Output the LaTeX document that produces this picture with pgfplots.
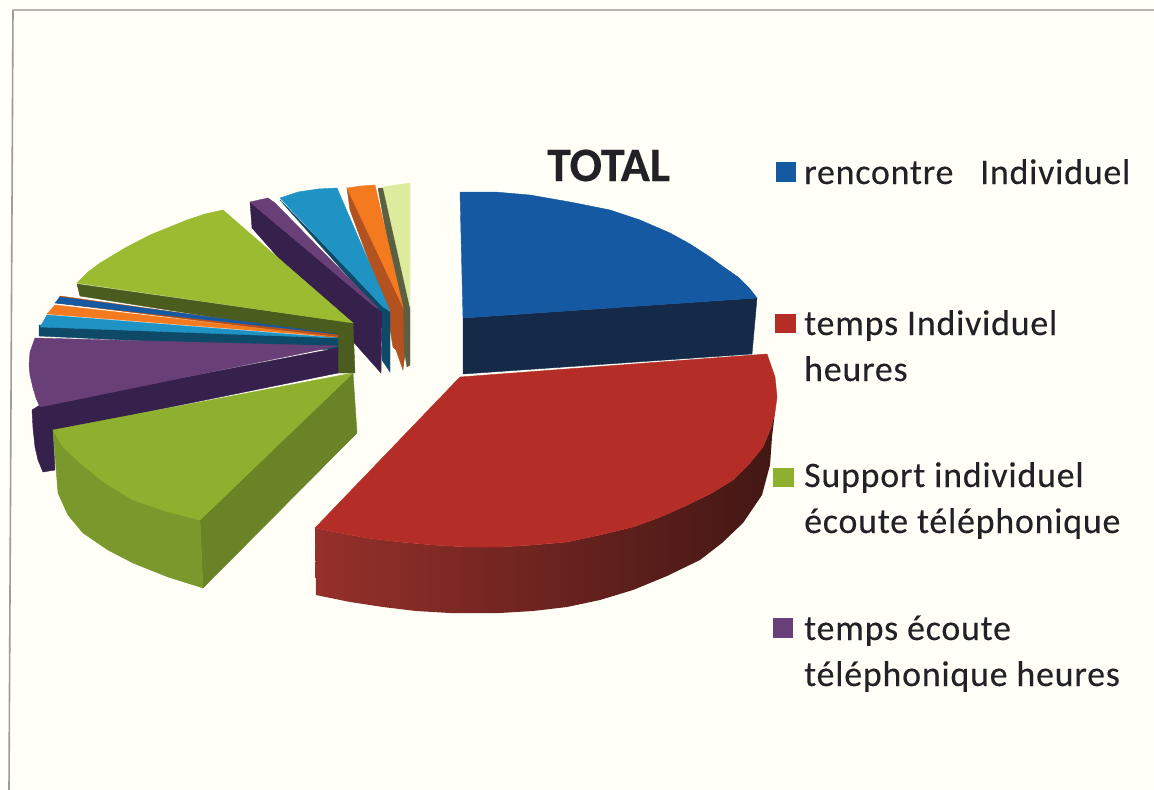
\documentclass[border=0pt]{standalone}
\usepackage{pgfplots}
\pgfplotsset{compat=1.18}
\usepackage{fontspec}
\setmainfont{Carlito}
\newfontfamily\legfont[LetterSpace=2.2,FakeBold=0.25]{Carlito}
\newfontfamily\titlefont[FakeBold=0.4]{Carlito-Bold}
\definecolor{paper}{HTML}{FFFFF8}
\definecolor{frame}{HTML}{9C9C98}
\definecolor{bluetop}{HTML}{1559A3}
\definecolor{blueside}{HTML}{142A48}
\definecolor{redtop}{HTML}{B42D26}
\definecolor{redsideL}{HTML}{96302B}
\definecolor{redsideR}{HTML}{421714}
\definecolor{greentop}{HTML}{8FB02F}
\definecolor{greenside}{HTML}{6A8326}
\definecolor{greenfront}{HTML}{7A982B}
\definecolor{greendark}{HTML}{4B5C1F}
\definecolor{greenlight}{HTML}{9BBB31}
\definecolor{purptop}{HTML}{693F78}
\definecolor{purpside}{HTML}{35214B}
\definecolor{tealtop}{HTML}{1F93C4}
\definecolor{tealside}{HTML}{0E4A68}
\definecolor{orgtop}{HTML}{F37A1F}
\definecolor{orgside}{HTML}{B3521E}
\definecolor{paletop}{HTML}{DDEB9F}
\definecolor{paleside}{HTML}{5C5F42}
\definecolor{legtext}{HTML}{222226}
\pgfplotsset{face/.style={fill=#1,draw=#1,line width=0.4pt}}
\begin{document}
\begin{tikzpicture}
\begin{axis}[
  scale only axis,
  width=1154bp, height=790bp,
  xmin=0, xmax=1154, ymin=0, ymax=790,
  y dir=reverse,
  hide axis,
  clip=true,
]
% background and frame
\addplot[fill=paper,draw=none] coordinates {(0,0)(1154,0)(1154,790)(0,790)};
\addplot[frame,line width=1.6pt] coordinates {(9,790)(13,10)};
\addplot[frame!75,line width=1.4pt] coordinates {(13,10)(1154,10)};

% pale green slice
\addplot[face=paleside] coordinates {(378,188)(385,188)(410,307)(410,365)(407,367)(405,355)(403,367)(398,300)} --cycle;
\addplot[face=paletop] coordinates {(383,187)(396,185)(410,183)(410,307)} --cycle;
% orange slice
\addplot[face=orgside] coordinates {(347,188)(403,307)(404,355)(403,370)(396,350)(393,347)(387,310)(350,210)} --cycle;
\addplot[face=orgtop] coordinates {(347,188)(361,186)(375,185)(403,307)} --cycle;
% teal slice
\addplot[face=tealside] coordinates {(280,200)(390,313)(390,372)(382,360)(382,313)(375,307)(287,208)} --cycle;
\addplot[face=tealtop] coordinates {(280,198)(298,192)(318,189)(337,188)(390,311)(383,307)} --cycle;
% small purple slice
\addplot[face=purpside] coordinates {(250,202)(382,313)(381,373)(252,228)} --cycle;
\addplot[face=purptop] coordinates {(250,202)(268,198)(275,203)(378,308)(375,307)} --cycle;

% upper green slice
\addplot[face=greendark] coordinates {(77,284)(353,323)(355,373)(338,373)(338,337)(80,296)} --cycle;
\addplot[face=greenlight] coordinates {(77,283)(88,272)(100,263)(125,248)(150,235)(187,220)(205,214)(223,210)(353,323)} --cycle;

% thin slices
\addplot[face=orgside] coordinates {(60,296)(338,335)(338,338)(57,303)} --cycle;
\addplot[face=bluetop] coordinates {(55,303)(60,297)(337,334)} --cycle;
\addplot[face=orgtop] coordinates {(47,314)(55,305)(337,337)} --cycle;
\addplot[face=tealside] coordinates {(39,325)(338,338)(338,350)(39,336)} --cycle;
\addplot[face=tealtop] coordinates {(40,327)(47,315)(338,338)} --cycle;

% large purple slice
\addplot[face=purpside] coordinates {(40,405)(338,348)(338,373)(53,431)(55,470)(43,472)(38,460)(35,447)(33,428)(32,410)} --cycle;
\addplot[face=purptop] coordinates {(35,338)(338,346)(40,407)(36,398)(33,388)(30,375)(29,365)(30,352)} --cycle;

% lower green slice
\addplot[face=greenside] coordinates {(200,520)(353,373)(357,433)(203,588)} --cycle;
\addplot[face=greenfront] coordinates {(53,430)(58,493)(68,515)(83,533)(108,550)(133,563)(168,577)(203,588)(200,520)(133,500)(80,463)} --cycle;
\addplot[face=greentop] coordinates {(53,430)(353,373)(200,520)(165,511)(133,500)(105,483)(80,463)(63,447)} --cycle;

% red slice
\addplot[draw=none,left color=redsideL,right color=redsideR] coordinates {(315,528)(340,533)(367,538)(400,542)(433,545)(467,547)(500,547)(533,545)(567,542)(600,535)(633,527)(658,518)(683,507)(710,494)(733,480)(750,463)(763,447)(771,428)(775,412)(772,437)(770,465)(762,495)(743,523)(722,543)(700,560)(667,576)(633,590)(600,600)(567,607)(533,611)(500,613)(450,613)(416,611)(383,607)(350,602)(316,595)} --cycle;
\addplot[face=redtop] coordinates {(460,377)(767,354)(775,377)(777,397)(775,412)(771,428)(763,447)(750,463)(733,480)(710,494)(683,507)(658,518)(633,527)(600,535)(567,542)(533,545)(500,547)(467,547)(433,545)(400,542)(367,538)(340,533)(315,528)} --cycle;

% blue slice
\addplot[face=blueside] coordinates {(463,318)(757,298)(752,354)(463,374)} --cycle;
\addplot[face=bluetop] coordinates {(460,192)(495,192)(530,195)(570,202)(610,210)(640,220)(670,233)(690,244)(710,257)(725,268)(738,277)(750,289)(757,298)(463,318)} --cycle;

% legend swatches
\addplot[fill=bluetop,draw=none] coordinates {(776,162)(796,162)(796,182)(776,182)};
\addplot[fill=redtop,draw=none] coordinates {(775,314)(796,314)(796,333)(775,333)};
\addplot[fill=greentop,draw=none] coordinates {(773,468)(794,468)(794,487)(773,487)};
\addplot[fill=purptop,draw=none] coordinates {(773,618)(793,618)(793,638)(773,638)};

% title and legend text
\node[anchor=base west,inner sep=0pt,font=\fontsize{48}{48}\selectfont\titlefont,text=legtext] at (axis cs:547,181) {TOTAL};
\tikzset{leg/.style={anchor=base west,inner sep=0pt,font=\fontsize{36}{36}\selectfont\legfont,text=legtext}}
\node[leg] at (axis cs:804,184) {rencontre\ \ \ Individuel};
\node[leg] at (axis cs:804,335) {temps Individuel};
\node[leg] at (axis cs:804,381) {heures};
\node[leg] at (axis cs:804,487) {Support individuel};
\node[leg] at (axis cs:804,533) {écoute téléphonique};
\node[leg] at (axis cs:804,640) {temps écoute};
\node[leg] at (axis cs:804,686) {téléphonique heures};
\end{axis}
\end{tikzpicture}
\end{document}
